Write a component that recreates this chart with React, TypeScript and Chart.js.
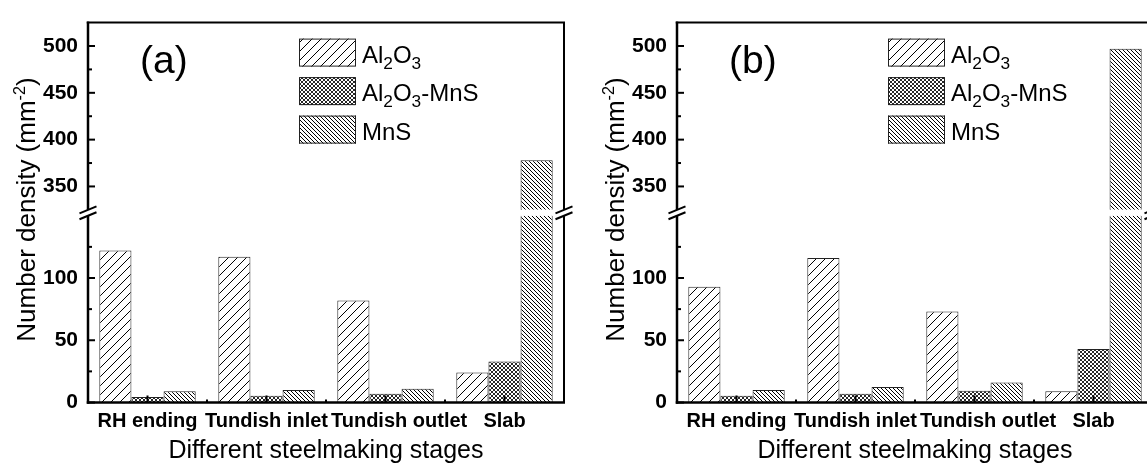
import React, { useEffect, useRef } from 'react';
import { Chart, registerables } from 'chart.js';

Chart.register(...registerables);

// ---------- data ----------
const categories = ['RH ending', 'Tundish inlet', 'Tundish outlet', 'Slab'];
const seriesNames = ['Al_{2}O_{3}', 'Al_{2}O_{3}-MnS', 'MnS'];

const aAl2O3 = [122, 117, 82, 24];
const aAl2O3MnS = [4.5, 5.5, 7, 33];
const aMnS = [9, 10, 11, 378];

const bAl2O3 = [93, 116, 73, 9];
const bAl2O3MnS = [5.5, 7, 9.5, 43];
const bMnS = [10, 12.5, 16, 497];

const lowerRange = [0, 150];
const upperRange = [325, 525];
const lowerMajorTicks = [0, 50, 100];
const lowerMinorTicks = [25, 75, 125];
const upperMajorTicks = [350, 400, 450, 500];
const upperMinorTicks = [375, 425, 475];

const xTitle = 'Different steelmaking stages';
const yTitle = 'Number density (mm^{-2})';
const panelLabels = ['(a)', '(b)'];

// ---------- helpers ----------
const FONT = 'Arial, "Liberation Sans", Helvetica, sans-serif';
const W = 573;
const H = 466;

type Seg = { t: string; k: 'n' | 'sub' | 'sup' };
function parseRich(s: string): Seg[] {
  const out: Seg[] = [];
  const re = /([_^])\{([^}]*)\}/g;
  let last = 0;
  let m: RegExpExecArray | null;
  while ((m = re.exec(s))) {
    if (m.index > last) out.push({ t: s.slice(last, m.index), k: 'n' });
    out.push({ t: m[2], k: m[1] === '_' ? 'sub' : 'sup' });
    last = re.lastIndex;
  }
  if (last < s.length) out.push({ t: s.slice(last), k: 'n' });
  return out;
}
function plain(s: string) {
  return s.replace(/[_^]\{([^}]*)\}/g, '$1');
}
function drawRich(ctx: CanvasRenderingContext2D, s: string, x: number, y: number, size: number, align: 'left' | 'center', smallScale: number) {
  const segs = parseRich(s);
  const small = size * smallScale;
  const widths = segs.map((sg) => {
    ctx.font = `${sg.k === 'n' ? size : small}px ${FONT}`;
    return ctx.measureText(sg.t).width;
  });
  const total = widths.reduce((a, b) => a + b, 0);
  let cx = align === 'center' ? x - total / 2 : x;
  ctx.textAlign = 'left';
  ctx.textBaseline = 'alphabetic';
  segs.forEach((sg, i) => {
    ctx.font = `${sg.k === 'n' ? size : small}px ${FONT}`;
    const dy = sg.k === 'sub' ? size * 0.26 : sg.k === 'sup' ? -size * 0.4 : 0;
    ctx.fillText(sg.t, cx, y + dy);
    cx += widths[i];
  });
}

function makePattern(kind: 'fwd' | 'back' | 'cross'): CanvasPattern {
  const c = document.createElement('canvas');
  const w = kind === 'fwd' ? 9 : 4;
  const h = kind === 'fwd' ? 9 : 4;
  c.width = w;
  c.height = h;
  const g = c.getContext('2d')!;
  g.fillStyle = '#fff';
  g.fillRect(0, 0, w, h);
  g.strokeStyle = '#000';
  g.lineWidth = kind === 'cross' ? 0.85 : 1;
  g.beginPath();
  for (let k = -1; k <= 1; k++) {
    if (kind === 'fwd' || kind === 'cross') {
      g.moveTo(k * w - w, 2 * h);
      g.lineTo(k * w + 2 * w, -h);
    }
    if (kind === 'back' || kind === 'cross') {
      g.moveTo(k * w - w, -h);
      g.lineTo(k * w + 2 * w, 2 * h);
    }
  }
  g.stroke();
  return g.createPattern(c, 'repeat')!;
}

function line(ctx: CanvasRenderingContext2D, x1: number, y1: number, x2: number, y2: number) {
  ctx.beginPath();
  ctx.moveTo(x1, y1);
  ctx.lineTo(x2, y2);
  ctx.stroke();
}

function buildChart(canvas: HTMLCanvasElement, series: number[][], panelLabel: string) {
  const patterns = [makePattern('fwd'), makePattern('cross'), makePattern('back')];
  const datasets: any[] = [];
  ['yHigh', 'yLow'].forEach((axis) => {
    series.forEach((vals, i) => {
      datasets.push({
        label: plain(seriesNames[i]),
        data: vals,
        yAxisID: axis,
        stack: 's' + i,
        backgroundColor: patterns[i],
        borderColor: '#222',
        borderWidth: 1,
        borderSkipped: 'start',
        categoryPercentage: 0.81,
        barPercentage: 1,
      });
    });
  });

  const decor = {
    id: 'decor',
    beforeDatasetDraw(chart: any, args: any) {
      const ys = args.meta.yScale;
      const ca = chart.chartArea;
      const ctx = chart.ctx;
      ctx.save();
      ctx.beginPath();
      ctx.rect(ca.left, ys.top, ca.right - ca.left, ys.bottom - ys.top);
      ctx.clip();
    },
    afterDatasetDraw(chart: any) {
      chart.ctx.restore();
    },
    afterDraw(chart: any) {
      const ctx: CanvasRenderingContext2D = chart.ctx;
      const ca = chart.chartArea;
      const hi = chart.scales.yHigh;
      const lo = chart.scales.yLow;
      const xs = chart.scales.x;
      ctx.save();
      ctx.strokeStyle = '#000';
      ctx.fillStyle = '#000';
      ctx.lineCap = 'butt';

      // frame
      ctx.lineWidth = 2;
      line(ctx, ca.left - 1.25, ca.top, ca.right + 1, ca.top);
      line(ctx, ca.right, ca.top, ca.right, hi.bottom);
      line(ctx, ca.right, lo.top, ca.right, ca.bottom);
      ctx.lineWidth = 2.5;
      line(ctx, ca.left, ca.top - 1, ca.left, hi.bottom);
      line(ctx, ca.left, lo.top, ca.left, ca.bottom + 1.25);
      line(ctx, ca.left - 1.25, ca.bottom, ca.right + 1, ca.bottom);

      // break marks
      ctx.lineWidth = 2;
      [ca.left, ca.right].forEach((ax: number) => {
        line(ctx, ax - 8.5, hi.bottom + 3.5, ax + 8.5, hi.bottom - 3.5);
        line(ctx, ax - 8.5, lo.top + 3.5, ax + 8.5, lo.top - 3.5);
      });

      // y ticks (inward)
      ctx.lineWidth = 2;
      lowerMajorTicks.forEach((v) => { const y = lo.getPixelForValue(v); line(ctx, ca.left, y, ca.left + 7, y); });
      lowerMinorTicks.forEach((v) => { const y = lo.getPixelForValue(v); line(ctx, ca.left, y, ca.left + 4, y); });
      upperMajorTicks.forEach((v) => { const y = hi.getPixelForValue(v); line(ctx, ca.left, y, ca.left + 7, y); });
      upperMinorTicks.forEach((v) => { const y = hi.getPixelForValue(v); line(ctx, ca.left, y, ca.left + 4, y); });

      // x ticks (inward)
      categories.forEach((_, i) => {
        const x = xs.getPixelForValue(i);
        line(ctx, x, ca.bottom, x, ca.bottom - 7);
        if (i < categories.length - 1) {
          const xm = (x + xs.getPixelForValue(i + 1)) / 2;
          line(ctx, xm, ca.bottom, xm, ca.bottom - 3);
        }
      });

      // x tick labels: centred under each category, nudged right only when they would collide
      ctx.font = `bold 20px ${FONT}`;
      ctx.textAlign = 'left';
      ctx.textBaseline = 'alphabetic';
      let prevEnd = -Infinity;
      categories.forEach((lab, i) => {
        const w = ctx.measureText(lab).width;
        let x0 = xs.getPixelForValue(i) - w / 2;
        if (x0 < prevEnd + 3) x0 = prevEnd + 3;
        ctx.fillText(lab, x0, ca.bottom + 24);
        prevEnd = x0 + w;
      });

      // panel label
      ctx.font = `39px ${FONT}`;
      ctx.fillText(panelLabel, ca.left + 52, ca.top + 50);

      // legend
      seriesNames.forEach((name, i) => {
        const bx = ca.left + 211;
        const by = ca.top + 16 + 38.5 * i;
        ctx.fillStyle = patterns[i];
        ctx.fillRect(bx, by, 57, 28);
        ctx.lineWidth = 1;
        ctx.strokeStyle = '#222';
        ctx.strokeRect(bx + 0.5, by + 0.5, 56, 27);
        ctx.fillStyle = '#000';
        drawRich(ctx, name, bx + 63, by + 24, 24, 'left', 0.72);
      });

      // y title
      ctx.save();
      ctx.translate(35, (ca.top + ca.bottom) / 2 - 3);
      ctx.rotate(-Math.PI / 2);
      ctx.fillStyle = '#000';
      drawRich(ctx, yTitle, 0, 0, 26, 'center', 0.62);
      ctx.restore();

      ctx.restore();
    },
  };

  const yCommon = {
    type: 'linear',
    position: 'left',
    stack: 'y',
    stacked: false,
    grid: { display: false, drawTicks: false },
    border: { display: false },
    ticks: { padding: 10, color: '#000', font: { family: FONT, size: 21, weight: 'bold' } },
    afterFit: (s: any) => { s.width = 88; },
  };

  return new Chart(canvas, {
    type: 'bar',
    data: { labels: categories, datasets },
    plugins: [decor],
    options: {
      responsive: false,
      animation: false,
      layout: { padding: { top: 16, right: 9, left: 0, bottom: 0 } },
      plugins: { legend: { display: false }, tooltip: { enabled: false } },
      scales: {
        x: {
          type: 'category',
          offset: true,
          grid: { display: false, drawTicks: false },
          border: { display: false },
          ticks: { display: false },
          title: { display: true, text: xTitle, color: '#000', font: { family: FONT, size: 25 }, padding: { top: 0, bottom: 0 } },
          afterFit: (s: any) => { s.height = 63.5; },
        },
        yHigh: {
          ...yCommon,
          weight: 2,
          stackWeight: 190.5,
          min: upperRange[0],
          max: upperRange[1],
          afterBuildTicks: (s: any) => { s.ticks = upperMajorTicks.map((v) => ({ value: v })); },
        },
        yGap: {
          type: 'linear',
          position: 'left',
          stack: 'y',
          weight: 1,
          stackWeight: 6,
          display: false,
          min: 0,
          max: 1,
        },
        yLow: {
          ...yCommon,
          weight: 0,
          stackWeight: 190,
          min: lowerRange[0],
          max: lowerRange[1],
          afterBuildTicks: (s: any) => { s.ticks = lowerMajorTicks.map((v) => ({ value: v })); },
        },
      } as any,
    } as any,
  });
}

export default function App() {
  const refA = useRef<HTMLCanvasElement>(null);
  const refB = useRef<HTMLCanvasElement>(null);
  useEffect(() => {
    const a = buildChart(refA.current!, [aAl2O3, aAl2O3MnS, aMnS], panelLabels[0]);
    const b = buildChart(refB.current!, [bAl2O3, bAl2O3MnS, bMnS], panelLabels[1]);
    return () => {
      a.destroy();
      b.destroy();
    };
  }, []);
  return (
    <div style={{ position: 'fixed', left: 0, top: 0, width: 1147, height: 466, overflow: 'hidden', background: '#fff' }}>
      <canvas ref={refA} width={W} height={H} style={{ position: 'absolute', left: 0, top: 0 }} />
      <canvas ref={refB} width={W} height={H} style={{ position: 'absolute', left: 589, top: 0 }} />
    </div>
  );
}
